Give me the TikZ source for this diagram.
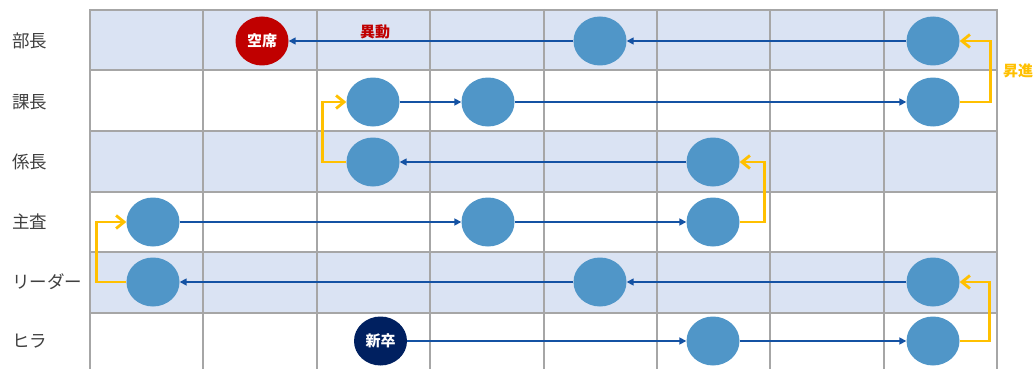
\documentclass[tikz,border=0pt]{standalone}
\usepackage{fontspec}
\setmainfont{Noto Sans CJK JP}
\usetikzlibrary{arrows.meta,shapes.geometric}
\definecolor{rowfill}{HTML}{DAE3F3}
\definecolor{gridc}{HTML}{A6A6A6}
\definecolor{dot}{HTML}{5096C8}
\definecolor{flow}{HTML}{1452A3}
\definecolor{promo}{HTML}{FFC000}
\definecolor{vacant}{HTML}{C00000}
\definecolor{newbie}{HTML}{002060}
\definecolor{labelc}{HTML}{404040}
\begin{document}
\begin{tikzpicture}[x=1pt,y=-1pt,
  person/.style={ellipse,minimum width=53pt,minimum height=49pt,inner sep=0pt,fill=dot,draw=none},
  special/.style={person,text=white,font=\fontsize{15}{15}\selectfont\bfseries},
  rank/.style={anchor=west,inner sep=0pt,text=labelc,font=\fontsize{17.5}{17.5}\selectfont},
  flowline/.style={draw=flow,line width=1.6pt,-{Triangle[length=7pt,width=7pt]}},
  promoline/.style={draw=promo,line width=2.8pt,-{Straight Barb[length=8pt,width=13pt]}},
  gridline/.style={draw=gridc,line width=2pt},
  tag/.style={inner sep=0pt,font=\fontsize{15}{15}\selectfont\bfseries}]
\useasboundingbox (0,0) rectangle (1033,369);
% shaded rows
\fill[rowfill] (90,10) rectangle (997.2,70.5);
\fill[rowfill] (90,131) rectangle (997.2,191.5);
\fill[rowfill] (90,252) rectangle (997.2,312.5);
% grid
\foreach \yy in {10,70.5,131,191.5,252,312.5}
  \draw[gridline] (90,\yy) -- (997.2,\yy);
\foreach \xx in {90,203.4,316.8,430.2,543.6,657,770.4,883.8,997.2}
  \draw[gridline] (\xx,9) -- (\xx,369);
% rank labels
\node[rank] (l1) at (12,41) {部長};
\node[rank] (l2) at (12,102) {課長};
\node[rank] (l3) at (12,162) {係長};
\node[rank] (l4) at (12,222) {主査};
\node[rank] (l5) at (12,282) {リーダー};
\node[rank] (l6) at (12,341) {ヒラ};
% people
\node[special,fill=vacant] (vac) at (262,41) {空席};
\node[person] (a5) at (600,41) {};
\node[person] (a8) at (933,41) {};
\node[person] (b3) at (373,102) {};
\node[person] (b4) at (488,102) {};
\node[person] (b8) at (933,102) {};
\node[person] (c3) at (373,162) {};
\node[person] (c6) at (713,162) {};
\node[person] (d1) at (153,222) {};
\node[person] (d4) at (488,222) {};
\node[person] (d6) at (713,222) {};
\node[person] (e1) at (153,282) {};
\node[person] (e5) at (600,282) {};
\node[person] (e8) at (933,282) {};
\node[special,fill=newbie] (new) at (380.5,341) {新卒};
\node[person] (f6) at (713,341) {};
\node[person] (f8) at (933,341) {};
% flows
\draw[flowline] (a8) -- (a5);
\draw[flowline] (a5) -- (vac);
\draw[flowline] (b3) -- (b4);
\draw[flowline] (b4) -- (b8);
\draw[flowline] (c6) -- (c3);
\draw[flowline] (d1) -- (d4);
\draw[flowline] (d4) -- (d6);
\draw[flowline] (e8) -- (e5);
\draw[flowline] (e5) -- (e1);
\draw[flowline] (new) -- (f6);
\draw[flowline] (f6) -- (f8);
% promotions
\draw[promoline] (b8.east) -- ++(31,0) |- (a8.east);
\draw[promoline] (c3.west) -- ++(-24,0) |- (b3.west);
\draw[promoline] (d6.east) -- ++(25,0) |- (c6.east);
\draw[promoline] (e1.west) -- ++(-30,0) |- (d1.west);
\draw[promoline] (f8.east) -- ++(30,0) |- (e8.east);
% tags
\node[tag,text=vacant] (t1) at (375,32) {異動};
\node[tag,text=promo,anchor=west] (t2) at (1003,71) {昇進};
\end{tikzpicture}
\end{document}
